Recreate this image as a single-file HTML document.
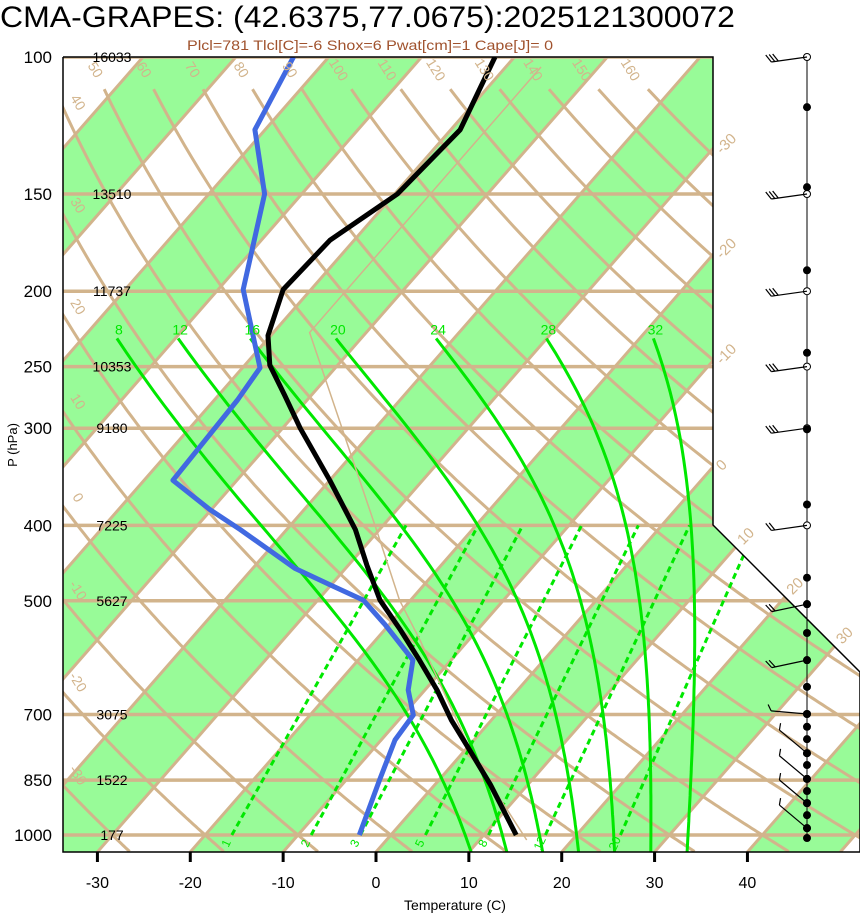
<!DOCTYPE html>
<html><head><meta charset="utf-8"><style>
html,body{margin:0;padding:0;background:#fff;}
svg{display:block;font-family:"Liberation Sans",Arial,sans-serif;}
</style></head><body>
<svg id="chart" width="860" height="914" viewBox="0 0 860 914" xmlns="http://www.w3.org/2000/svg">
<text x="0" y="27" font-size="30" textLength="735" lengthAdjust="spacingAndGlyphs">CMA-GRAPES: (42.6375,77.0675):2025121300072</text>
<text x="187" y="50" font-size="14" fill="#a0522d" textLength="366" lengthAdjust="spacingAndGlyphs">Plcl=781 Tlcl[C]=-6 Shox=6 Pwat[cm]=1 Cape[J]= 0</text>
<defs><clipPath id="plotclip"><polygon points="63,57 713,57 713,525 860,672 860,852 63,852"/></clipPath></defs>
<g id="bg" clip-path="url(#plotclip)"></g>
<g id="fg" clip-path="url(#plotclip)"></g>
<g id="ann"></g>
<polyline points="63,57 713,57 713,525 860,672 860,852 63,852 63,57" fill="none" stroke="#000" stroke-width="1.5"/>
<text x="17" y="445" font-size="13" text-anchor="middle" transform="rotate(-90 17 445)">P (hPa)</text>
<text x="455" y="910" font-size="14" text-anchor="middle">Temperature (C)</text>
<g id="wind"></g>
</svg>
<script>
// ---- data ----
const tempP = [100,124,150,172,199,228,249,272,300,350,405,450,499,545,596,651,712,778,862,1000];
const tempT = [-62.1,-59.0,-59.7,-62.6,-63.0,-60.3,-57.3,-52.9,-48.1,-40.0,-32.6,-28.0,-23.3,-18.3,-13.4,-8.7,-4.3,0.5,6.0,13.5];
const dewP = [100,124,150,199,251,276,311,350,382,405,454,477,499,537,596,651,701,755,850,1000];
const dewT = [-83.8,-81.1,-74.0,-67.3,-58.1,-57.5,-57.2,-56.9,-50.1,-45.0,-35.5,-30.1,-25.1,-20.4,-14.1,-11.8,-8.9,-8.5,-6.4,-3.4];
const parcelP = [1015,801,562,499,409,226,103];
const parcelT = [15.1,2.0,-15.2,-21.2,-29.9,-56.1,-56.2];
const isobars = [100,150,200,250,300,400,500,700,850,1000];
const heights = ["16033","13510","11737","10353","9180","7225","5627","3075","1522","177"];
const xTicks = [-30,-20,-10,0,10,20,30,40];
const thetaVals = [-30,-20,-10,0,10,20,30,40,50,60,70,80,90,100,110,120,130,140,150,160];
const moistVals = [8,12,16,20,24,28,32];
const mixVals = [1,2,3,5,8,12,20];
const dotP = [116,147,188,240,301,376,467,505,550,596,645,699,726,753,785,813,847,878,910,943,980,1009];
const barbP = [100,150,200,250,300,400,505,596,699,785,847,910,980];
const barbDir = [262,262,262,262,262,262,258,258,275,310,310,310,310];
const barbN = [3,3,3,3,3,2,2,2,1,1,1,1,1];

// ---- axes ----
const NS="http://www.w3.org/2000/svg";
const Y = p => 57 + 778*Math.log10(p/100);
const X = (T,p) => 376 + 9.286*T + 0.875*(852 - Y(p));
const PBOT=1052, PTOP=100;
function mk(tag, attrs, parent){const e=document.createElementNS(NS,tag);for(const k in attrs)e.setAttribute(k,attrs[k]);parent.appendChild(e);return e;}
const bg=document.getElementById('bg'), fg=document.getElementById('fg'), ann=document.getElementById('ann'), wind=document.getElementById('wind');
const TAN="#d2b48c", GRN="#00e800";

// green bands
for(let T=-120;T<=50;T+=20){
  const pts=[[X(T,PBOT),Y(PBOT)],[X(T+10,PBOT),Y(PBOT)],[X(T+10,PTOP),Y(PTOP)],[X(T,PTOP),Y(PTOP)]];
  const e=mk('polygon',{points:pts.map(a=>a.join(',')).join(' '),fill:'#98fb98'},bg);
  
  
}
// isotherms
for(let T=-120;T<=60;T+=10){
  const e=mk('line',{x1:X(T,PBOT),y1:Y(PBOT),x2:X(T,PTOP),y2:Y(PTOP),stroke:TAN,'stroke-width':3},bg);
  
  
}
// dry adiabats
thetaVals.forEach(th=>{
  const pts=[];
  for(let p=110;p<=PBOT;p+=5){const T=(th+273.15)*Math.pow(p/1000,0.2857)-273.15;pts.push(X(T,p).toFixed(1)+','+Y(p).toFixed(1));}
  const e=mk('polyline',{points:pts.join(' '),fill:'none',stroke:TAN,'stroke-width':3},bg);
  
  
  let lx,ly;
  const T0=(th+273.15)*Math.pow(0.104,0.2857)-273.15;
  if(X(T0,104)>75){lx=X(T0,104)-4;ly=Y(104)+2;}
  else{let p=110;while(p<PBOT){const T=(th+273.15)*Math.pow(p/1000,0.2857)-273.15;if(X(T,p)>=63)break;p+=2;}lx=74;ly=Y(p)-8;}
  if(ly<840){
    const t=mk('text',{x:lx,y:ly,'font-size':14,fill:TAN,'text-anchor':'middle',transform:`rotate(58 ${lx} ${ly})`},ann);
    t.textContent=th;
    
    
  }
});
// isobars
isobars.forEach((p,i)=>{
  const e=mk('line',{x1:63,y1:Y(p),x2:860,y2:Y(p),stroke:TAN,'stroke-width':3.5},bg);
  
  
  const t=mk('text',{x:52,y:Y(p)+6,'font-size':17,'text-anchor':'end'},ann);
  t.textContent=p;
  
  
  const h=mk('text',{x:112,y:Y(p)+5,'font-size':14,'text-anchor':'middle'},ann);
  h.textContent=heights[i];
  
  
});
// mixing ratio lines
function tdFromW(w,p){const e=w*p/(622+w);const l=Math.log(e/6.112);return 243.5*l/(17.67-l);}
mixVals.forEach(w=>{
  const e=mk('line',{x1:X(tdFromW(w,1000),1000),y1:Y(1000),x2:X(tdFromW(w,400),400),y2:Y(400),stroke:GRN,'stroke-width':3,'stroke-dasharray':'6,4'},fg);
  
  
  const lx=X(tdFromW(w,1000),1000)-2, ly=Y(1000)+10;
  const t=mk('text',{x:lx,y:ly,'font-size':12,fill:GRN,'text-anchor':'middle',transform:`rotate(-65 ${lx} ${ly})`},ann);
  t.textContent=w;
  
  
});
// moist adiabats
function gam(Tk,p){const es=6.112*Math.exp(17.67*(Tk-273.15)/(Tk-29.65));const rs=0.622*es/(p-es);return (287*Tk+2.5e6*rs)/p/(1004+2.5e6*2.5e6*rs*0.622/(287*Tk*Tk));}
moistVals.forEach(tw=>{
  let Tk=tw+273.15,p=1000;const dp=2;
  let pl=p,Tl=Tk;while(pl<PBOT){Tl+=gam(Tl,pl)*dp;pl+=dp;}
  const pts=[];
  pts.push(X(Tl-273.15,pl).toFixed(1)+','+Y(pl).toFixed(1));
  let q=1000,T=Tk;pts.push(X(T-273.15,q).toFixed(1)+','+Y(q).toFixed(1));
  while(q>230){T-=gam(T,q)*dp;q-=dp;if(q%10===0)pts.push(X(T-273.15,q).toFixed(1)+','+Y(q).toFixed(1));}
  pts.push(X(T-273.15,q).toFixed(1)+','+Y(q).toFixed(1));
  const e=mk('polyline',{points:pts.join(' '),fill:'none',stroke:GRN,'stroke-width':3},fg);
  
  
  const t=mk('text',{x:X(T-273.15,q)+2,y:Y(q)-4,'font-size':14,fill:GRN,'text-anchor':'middle'},ann);
  t.textContent=tw;
  
  
});
// isotherm labels
[-30,-20,-10,0].forEach(T=>{
  let p=100;while(p<PBOT&&X(T,p)>713)p+=1;
  const lx=722,ly=Y(p)+4;
  const t=mk('text',{x:lx,y:ly,'font-size':15,fill:TAN,transform:`rotate(-45 ${lx} ${ly})`},ann);
  t.textContent=T;
  
  
});
[10,20,30].forEach(T=>{
  let p=400;while(p<PBOT&&X(T,p)>713+(Y(p)-525))p+=1;
  const lx=X(T,p)+8,ly=Y(p)-2;
  const t=mk('text',{x:lx,y:ly,'font-size':15,fill:TAN,transform:`rotate(-45 ${lx} ${ly})`},ann);
  t.textContent=T;
  
  
});
// parcel
const pp=mk('polyline',{points:parcelP.map((p,i)=>X(parcelT[i],p).toFixed(1)+','+Y(p).toFixed(1)).join(' '),fill:'none',stroke:TAN,'stroke-width':1.5},fg);


// temperature & dewpoint
const tl=mk('polyline',{points:tempP.map((p,i)=>X(tempT[i],p).toFixed(1)+','+Y(p).toFixed(1)).join(' '),fill:'none',stroke:'#000','stroke-width':5,'stroke-linejoin':'round'},fg);


const dl=mk('polyline',{points:dewP.map((p,i)=>X(dewT[i],p).toFixed(1)+','+Y(p).toFixed(1)).join(' '),fill:'none',stroke:'#4169e1','stroke-width':5,'stroke-linejoin':'round'},fg);


// x ticks
xTicks.forEach(T=>{
  const x=X(T,PBOT)+0.875*(Y(PBOT)-852);
  const l=mk('line',{x1:x,y1:852,x2:x,y2:862,stroke:'#000','stroke-width':3},ann);
  
  
  const t=mk('text',{x:x,y:888,'font-size':16,'text-anchor':'middle'},ann);
  t.textContent=T;
  
  
});
// wind column
const WX=807;
const st=mk('line',{x1:WX,y1:57,x2:WX,y2:Y(1009),stroke:'#000','stroke-width':1},wind);


barbP.forEach((p,i)=>{
  const y=Y(p),d=barbDir[i]*Math.PI/180,L=36;
  const ux=Math.sin(d),uy=-Math.cos(d);
  const ex=WX+ux*L,ey=y+uy*L;
  const g=mk('g',{},wind);
  
  
  mk('circle',{cx:WX,cy:y,r:3.5,fill:'#fff',stroke:'#000','stroke-width':1},g);
  mk('line',{x1:WX,y1:y,x2:ex,y2:ey,stroke:'#000','stroke-width':1.2},g);
  const fl=barbN[i]>=2?9:7;
  const a=d+Math.PI*0.33;
  for(let k=0;k<barbN[i];k++){
    const bx=ex-ux*k*3.5,by=ey-uy*k*3.5;
    mk('line',{x1:bx,y1:by,x2:bx+Math.sin(a)*fl,y2:by-Math.cos(a)*fl,stroke:'#000','stroke-width':1.2},g);
  }
});
dotP.forEach(p=>{
  const c=mk('circle',{cx:WX,cy:Y(p),r:4,fill:'#000'},wind);
  
  
});
</script>
</body></html>
